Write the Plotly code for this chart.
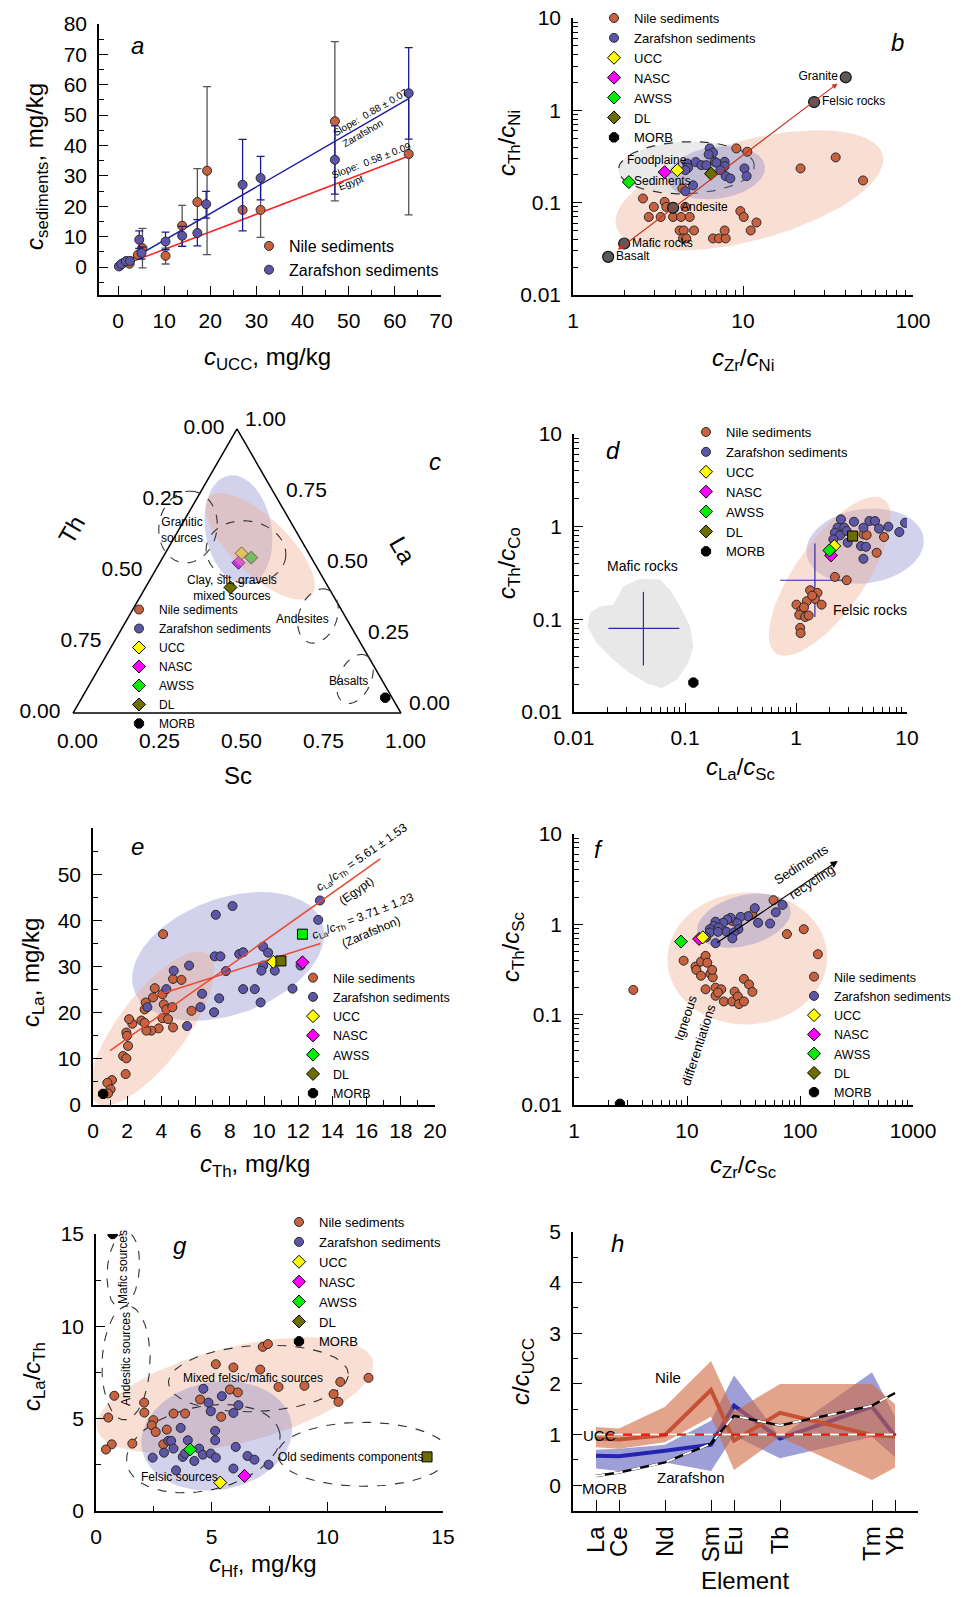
import math
import numpy as np
import plotly.graph_objects as go

W, H = 962, 1597

# =====================================================================
# DATA
# =====================================================================
# ---- (a) c_sediments vs c_UCC ----
a_nile_x = [0.4, 1.1, 1.8, 2.5, 4.3, 5.3, 10.3, 13.9, 17.2, 19.3, 27.0, 30.9, 47.0, 63.0]
a_nile_y = [0.5, 1.3, 1.9, 1.1, 4.0, 6.2, 3.7, 13.6, 21.4, 31.7, 18.8, 18.8, 48.0, 37.2]
a_nile_ep = [0, 0, 0, 0, 0, 6.5, 2.5, 6.7, 11.0, 27.7, 0, 10.5, 26.2, 20.0]
a_nile_em = [0, 0, 0, 0, 0, 6.5, 2.7, 6.8, 11.0, 27.6, 0, 9.0, 26.2, 20.0]
a_zaf_x = [0.2, 0.7, 1.7, 2.6, 4.6, 5.1, 10.3, 13.9, 17.2, 19.1, 27.0, 30.9, 47.0, 63.0]
a_zaf_y = [0.2, 1.0, 1.9, 2.0, 9.0, 4.6, 8.4, 10.3, 11.2, 20.7, 27.1, 29.3, 35.3, 57.2]
a_zaf_ep = [0, 0, 0, 1.2, 2.9, 2.0, 3.1, 3.1, 4.4, 4.2, 14.9, 7.1, 11.2, 15.0]
a_zaf_em = [0, 0, 0, 1.0, 2.9, 2.0, 2.7, 3.5, 4.2, 4.6, 15.2, 7.2, 11.3, 15.1]
a_slope_zaf = 0.88
a_slope_nile = 0.58
a_fit_x = [0, 63]

# ---- (b) Th/Ni vs Zr/Ni ----
b_nile_x = [9.14, 10.6, 21.8, 35.1, 50.8, 2.58, 3.46, 2.99, 3.54, 4.58, 2.79, 3.28, 3.88, 4.32, 4.86,
            4.24, 4.48, 5.15, 4.44, 4.64, 6.66, 7.22, 7.91, 7.80, 9.65, 10.1, 12.0, 11.1, 4.40]
b_nile_y = [0.387, 0.356, 0.235, 0.309, 0.174, 0.111, 0.102, 0.090, 0.090, 0.090, 0.070, 0.070, 0.070, 0.070, 0.070,
            0.050, 0.050, 0.050, 0.041, 0.041, 0.041, 0.041, 0.041, 0.050, 0.081, 0.070, 0.061, 0.050, 0.143]
b_zaf_x = [6.37, 6.66, 6.28, 6.81, 7.80, 6.97, 7.80, 4.69, 5.27, 5.69, 6.09, 4.75, 4.58, 7.36, 7.91, 8.42,
           10.2, 10.5, 5.08, 4.58]
b_zaf_y = [0.387, 0.348, 0.333, 0.277, 0.277, 0.271, 0.249, 0.266, 0.275, 0.255, 0.255, 0.239, 0.225, 0.225,
           0.194, 0.183, 0.235, 0.194, 0.154, 0.133]
b_ref_names = ["UCC", "NASC", "AWSS", "DL"]
b_ref_x = [4.11, 3.46, 2.13, 6.48]
b_ref_y = [0.225, 0.214, 0.167, 0.206]
b_rock_names = ["Basalt", "Mafic rocks", "Andesite", "Felsic rocks", "Granite"]
b_rock_x = [1.61, 2.0, 3.88, 26.2, 40.2]
b_rock_y = [0.0259, 0.0361, 0.088, 1.23, 2.28]

# ---- (c) ternary La-Th-Sc (fractions) ----
c_ref_names = ["UCC", "AWSS", "NASC", "DL", "MORB"]
c_ref_la = [0.562, 0.547, 0.529, 0.442, 0.054]
c_ref_th = [0.205, 0.183, 0.231, 0.299, 0.021]
c_ref_sc = [0.233, 0.270, 0.240, 0.259, 0.925]

# ---- (d) Th/Co vs La/Sc ----
d_nile_x = [2.24, 2.86, 1.34, 1.56, 1.48, 1.70, 1.01, 1.25, 1.12, 1.07, 1.21, 1.09, 1.10, 4.05, 4.33, 5.33, 6.21,
            1.40, 1.18, 1.30]
d_nile_y = [0.287, 0.264, 0.206, 0.193, 0.166, 0.144, 0.144, 0.157, 0.125, 0.112, 0.106, 0.081, 0.071, 0.826,
            0.812, 0.523, 0.773, 0.180, 0.135, 0.110]
d_zaf_x = [2.54, 2.37, 2.72, 2.24, 2.49, 2.86, 3.33, 4.05, 4.58, 5.15, 5.60, 6.79, 9.60, 8.53, 2.92, 3.85, 4.27,
           4.05, 2.17]
d_zaf_y = [1.20, 0.976, 0.976, 0.861, 0.805, 0.898, 1.13, 0.976, 1.15, 1.15, 0.952, 1.0, 1.10, 0.875, 0.671,
           0.618, 0.607, 0.45, 0.729]
d_ref_names = ["UCC", "NASC", "AWSS", "DL", "MORB"]
d_ref_x = [2.21, 2.07, 2.0, 3.24, 0.119]
d_ref_y = [0.618, 0.49, 0.554, 0.792, 0.0208]
# rock fields: mean with range (cross)
d_cross_x = [1.48, 0.0422]
d_cross_y = [0.264, 0.080]
d_cross_xhi = [3.1, 0.0889]
d_cross_xlo = [0.72, 0.0204]
d_cross_yhi = [0.66, 0.198]
d_cross_ylo = [0.106, 0.0318]
# mafic rocks field outline
d_mafic_x = [0.0139, 0.0171, 0.0226, 0.0278, 0.0394, 0.0596, 0.0733, 0.0902, 0.111, 0.119, 0.107, 0.0841,
             0.0617, 0.0452, 0.0320, 0.0226, 0.0160, 0.0132]
d_mafic_y = [0.117, 0.138, 0.144, 0.228, 0.274, 0.269, 0.209, 0.138, 0.0839, 0.0511, 0.0337, 0.0222, 0.0180,
             0.0204, 0.0262, 0.0366, 0.0555, 0.0839]

# ---- (e) La vs Th ----
e_nile_x = [4.10, 4.68, 5.17, 3.61, 4.06, 3.51, 3.08, 3.02, 4.14, 4.29, 4.64, 4.06, 4.39, 4.68, 3.84, 3.41, 3.12,
            2.83, 3.02, 2.30, 2.11, 1.95, 1.99, 2.05, 1.76, 1.95, 1.91, 5.76, 1.11, 0.84, 1.03, 0.88]
e_nile_y = [37.0, 27.3, 27.1, 25.3, 24.0, 23.3, 22.2, 20.7, 21.8, 20.7, 21.2, 18.8, 18.6, 16.8, 16.6, 16.1, 16.1,
            18.3, 17.8, 17.6, 18.6, 15.7, 15.0, 12.8, 10.6, 10.1, 6.7, 20.4, 5.4, 4.8, 3.4, 2.5]
e_zaf_x = [7.18, 8.16, 13.27, 13.17, 7.12, 7.45, 8.55, 8.78, 7.77, 9.95, 10.24, 9.95, 9.85, 10.63, 12.14, 11.67,
           9.46, 8.78, 9.80, 6.38, 7.38, 6.28, 7.08, 5.62, 4.72, 4.29, 3.18, 5.50]
e_zaf_y = [41.2, 43.1, 44.3, 40.1, 32.2, 32.2, 32.7, 33.1, 29.0, 34.3, 33.0, 30.2, 29.1, 29.1, 30.2, 25.2, 25.1,
           25.1, 22.2, 24.1, 23.1, 21.2, 20.1, 30.2, 29.1, 25.1, 21.2, 17.1]
e_ref_names = ["UCC", "NASC", "AWSS", "DL", "MORB"]
e_ref_x = [10.54, 12.25, 12.25, 10.99, 0.59]
e_ref_y = [31.0, 30.9, 37.0, 31.2, 2.4]
e_fit_egypt_x = [1.0, 16.8]
e_fit_egypt_y = [11.8, 53.3]
e_fit_zaf_x = [3.5, 13.3]
e_fit_zaf_y = [23.5, 35.0]

# ---- (f) Th/Sc vs Zr/Sc ----
f_nile_x = [3.35, 9.34, 11.9, 12.1, 13.3, 14.6, 15.1, 13.3, 16.1, 16.9, 16.7, 14.6, 17.9, 20.1, 17.9, 18.8, 21.2,
            25.2, 26.4, 28.2, 28.8, 31.9, 31.9, 35.4, 37.9, 58.3, 37.9, 76.6, 108, 144, 25.2]
f_nile_y = [0.188, 0.396, 0.341, 0.313, 0.386, 0.448, 0.376, 0.270, 0.284, 0.259, 0.313, 0.191, 0.199, 0.191,
            0.162, 0.176, 0.140, 0.140, 0.180, 0.159, 0.131, 0.140, 0.249, 0.216, 0.179, 1.85, 1.28, 0.780, 0.883,
            0.467, 1.09]
f_zaf_x = [70.1, 61.1, 39.8, 34.7, 29.8, 24.3, 22.7, 20.9, 17.9, 17.3, 19.1, 15.9, 15.9, 14.8, 27.9, 28.5, 22.4,
           26.0, 25.2, 42.6, 54.4, 17.9, 18.8]
f_zaf_y = [1.64, 1.36, 1.51, 1.23, 1.21, 1.18, 1.13, 1.04, 1.07, 0.96, 0.92, 0.883, 0.813, 0.718, 1.03, 0.883,
           0.826, 0.813, 0.700, 1.04, 1.02, 0.618, 0.826]
f_ref_names = ["AWSS", "NASC", "UCC", "MORB"]
f_ref_x = [8.85, 12.8, 13.8, 2.55]
f_ref_y = [0.644, 0.689, 0.718, 0.0103]

# ---- (g) La/Th vs Hf ----
g_nile_x = [0.53, 0.68, 0.79, 0.43, 2.08, 2.09, 2.48, 2.41, 2.58, 3.06, 2.91, 1.57, 3.35, 3.85, 4.50, 5.18, 5.94,
            5.79, 6.13, 5.41, 7.10, 7.21, 7.43, 7.89, 9.01, 10.27, 10.48, 10.56, 11.78]
g_nile_y = [5.06, 3.61, 6.24, 3.33, 5.87, 5.33, 4.92, 4.64, 4.28, 4.41, 3.61, 3.65, 5.28, 5.28, 6.04, 7.95, 7.77,
            6.58, 6.42, 5.10, 7.66, 8.89, 9.04, 6.72, 6.78, 6.33, 5.91, 6.99, 7.21]
g_zaf_x = [4.64, 5.44, 4.86, 4.96, 6.16, 5.94, 3.66, 5.15, 5.15, 3.97, 3.13, 3.25, 3.35, 2.94, 2.45, 3.75, 3.85,
           4.46, 4.62, 4.96, 5.18, 4.25, 3.46, 5.94, 6.04, 6.55, 6.85, 7.46]
g_zaf_y = [6.62, 6.22, 5.87, 5.40, 5.73, 5.31, 4.50, 4.34, 3.83, 3.83, 3.80, 3.80, 3.38, 3.16, 2.89, 2.93, 3.11,
           3.38, 3.05, 3.11, 2.89, 2.71, 2.20, 2.30, 3.47, 2.98, 2.78, 2.51]
g_ref_names = ["UCC", "NASC", "AWSS", "DL", "MORB"]
g_ref_x = [5.37, 6.42, 4.07, 14.31, 0.72]
g_ref_y = [1.54, 1.90, 3.33, 2.93, 15.0]

# ---- (h) REE normalised to UCC ----
h_elements = ["La", "Ce", "Nd", "Sm", "Eu", "Tb", "Tm", "Yb"]
h_z = [57, 58, 60, 62, 63, 65, 69, 70]
h_nile = [0.92, 0.90, 0.99, 1.88, 0.88, 1.43, 0.99, 0.96]
h_nile_hi = [1.15, 1.12, 1.55, 2.45, 1.45, 2.00, 2.00, 1.60]
h_nile_lo = [0.75, 0.72, 0.85, 1.35, 0.30, 0.95, 0.10, 0.35]
h_zaf = [0.58, 0.57, 0.68, 0.80, 1.57, 0.92, 1.55, 0.97]
h_zaf_hi = [0.70, 0.72, 0.80, 1.27, 2.17, 0.95, 2.23, 1.35]
h_zaf_lo = [0.33, 0.28, 0.45, 0.28, 0.98, 0.53, 0.95, 0.55]
h_morb = [0.18, 0.25, 0.45, 0.82, 1.37, 1.18, 1.57, 1.82]
h_ucc = [1, 1, 1, 1, 1, 1, 1, 1]

# =====================================================================
# STYLE / LAYOUT
# =====================================================================
FONT = "Arial, Liberation Sans, sans-serif"
NILE = "#C8613F"
ZAF = "#5D56A8"
OUT = "#2a2a2a"
REF_COL = {"UCC": "#FFFF00", "NASC": "#FF00FF", "AWSS": "#00EE00", "DL": "#6E6E00", "MORB": "#000000"}
ORANGE_FILL = "rgba(238,170,140,0.38)"
PURPLE_FILL = "rgba(125,125,200,0.35)"

# page offset of the plot div (default body margin of the html page)
OFF = 8

# panel geometry (page pixels): x-domain, y-domain (top, bottom), ranges (log10 for log axes)
AX = {
    "a": dict(xd=(99, 441), yd=(24, 295), xr=(-4.12, 70), yr=(-9.2, 80), xlog=False, ylog=False, n=""),
    "b": dict(xd=(573, 913), yd=(18, 295), xr=(0, 2), yr=(-2, 1), xlog=True, ylog=True, n="2"),
    "d": dict(xd=(574, 907), yd=(434, 712), xr=(-2, 1), yr=(-2, 1), xlog=True, ylog=True, n="3"),
    "e": dict(xd=(93, 435), yd=(828, 1105), xr=(0, 20), yr=(0, 60), xlog=False, ylog=False, n="4"),
    "f": dict(xd=(574, 913), yd=(834, 1105), xr=(0, 3), yr=(-2, 1), xlog=True, ylog=True, n="5"),
    "g": dict(xd=(96, 443), yd=(1234, 1511), xr=(0, 15), yr=(0, 15), xlog=False, ylog=False, n="6"),
    "h": dict(xd=(573, 918), yd=(1232, 1511), xr=(56, 71), yr=(-0.51, 5), xlog=False, ylog=False, n="7"),
}
# ternary triangle (page pixels)
TRI_X0, TRI_SIDE, TRI_YB = 73, 328, 713
SQ3 = math.sqrt(3) / 2


def px(x):
    return (x - OFF) / W


def py(y):
    return 1 - (y - OFF) / H


def axes_of(p):
    n = AX[p]["n"]
    return "x" + n, "y" + n


def to_px(p, x, y):
    s = AX[p]
    ux = math.log10(x) if s["xlog"] else x
    uy = math.log10(y) if s["ylog"] else y
    X = s["xd"][0] + (ux - s["xr"][0]) / (s["xr"][1] - s["xr"][0]) * (s["xd"][1] - s["xd"][0])
    Y = s["yd"][1] - (uy - s["yr"][0]) / (s["yr"][1] - s["yr"][0]) * (s["yd"][1] - s["yd"][0])
    return X, Y


def ellipse(p, cx, cy, a_px, b_px, ang, n=140):
    s = AX[p]
    ux = math.log10(cx) if s["xlog"] else cx
    uy = math.log10(cy) if s["ylog"] else cy
    sx = (s["xd"][1] - s["xd"][0]) / (s["xr"][1] - s["xr"][0])
    sy = (s["yd"][1] - s["yd"][0]) / (s["yr"][1] - s["yr"][0])
    t = np.linspace(0, 2 * np.pi, n)
    th = math.radians(ang)
    dx = a_px * np.cos(t) * math.cos(th) - b_px * np.sin(t) * math.sin(th)
    dy = a_px * np.cos(t) * math.sin(th) + b_px * np.sin(t) * math.cos(th)
    X = ux + dx / sx
    Y = uy + dy / sy
    if s["xlog"]:
        X = 10 ** X
    if s["ylog"]:
        Y = 10 ** Y
    return list(X), list(Y)


def tern_ellipse(ca, cb, cc, a_px, b_px, ang, n=140):
    X0 = cc + ca / 2
    Y0 = ca * SQ3
    t = np.linspace(0, 2 * np.pi, n)
    th = math.radians(ang)
    dx = (a_px * np.cos(t) * math.cos(th) - b_px * np.sin(t) * math.sin(th)) / TRI_SIDE
    dy = (a_px * np.cos(t) * math.sin(th) + b_px * np.sin(t) * math.cos(th)) / TRI_SIDE
    X = X0 + dx
    Y = Y0 + dy
    A = Y / SQ3
    C = X - A / 2
    B = 1 - A - C
    return list(A), list(B), list(C)


def paper_ellipse_path(cx, cy, a, b, ang, n=90):
    t = np.linspace(0, 2 * np.pi, n)
    th = math.radians(ang)
    xs = cx + a * np.cos(t) * math.cos(th) - b * np.sin(t) * math.sin(th)
    ys = cy - (a * np.cos(t) * math.sin(th) + b * np.sin(t) * math.cos(th))
    pts = ["%s%.5f,%.5f" % ("M" if i == 0 else "L", px(x), py(y)) for i, (x, y) in enumerate(zip(xs, ys))]
    return " ".join(pts) + " Z"


def mk(color, size=9, symbol="circle", lw=1, lc=OUT):
    return dict(color=color, size=size, symbol=symbol, line=dict(color=lc, width=lw))


fig = go.Figure()
annotations = []
shapes = []


def txt(x, y, s, size=12, angle=0, xanchor="center"):
    annotations.append(dict(x=px(x), y=py(y), xref="paper", yref="paper", text=s, showarrow=False,
                            font=dict(family=FONT, size=size, color="black"), textangle=angle,
                            xanchor=xanchor, yanchor="middle"))


def add_fill(p, xs, ys, color, line_color=None, dash=None):
    xa, ya = axes_of(p)
    fig.add_trace(go.Scatter(x=xs, y=ys, mode="lines", fill="toself", fillcolor=color,
                             line=dict(color=line_color or "rgba(0,0,0,0)", width=1.2 if line_color else 0,
                                       dash=dash),
                             hoverinfo="skip", showlegend=False, xaxis=xa, yaxis=ya))


def add_outline(p, xs, ys):
    xa, ya = axes_of(p)
    fig.add_trace(go.Scatter(x=xs, y=ys, mode="lines", line=dict(color="#333333", width=1.1, dash="dash"),
                             hoverinfo="skip", showlegend=False, xaxis=xa, yaxis=ya))


def add_groups(p, nx, ny, zx, zy, legend, size=9):
    xa, ya = axes_of(p)
    fig.add_trace(go.Scatter(x=nx, y=ny, mode="markers", name="Nile sediments", marker=mk(NILE, size),
                             xaxis=xa, yaxis=ya, legend=legend))
    fig.add_trace(go.Scatter(x=zx, y=zy, mode="markers", name="Zarafshon sediments", marker=mk(ZAF, size),
                             xaxis=xa, yaxis=ya, legend=legend))


def add_refs(p, names, xs, ys, squares=()):
    xa, ya = axes_of(p)
    cols = [REF_COL[n] for n in names]
    syms = ["octagon" if n == "MORB" else ("square" if n in squares else "diamond") for n in names]
    fig.add_trace(go.Scatter(x=xs, y=ys, mode="markers", showlegend=False, xaxis=xa, yaxis=ya,
                             marker=dict(color=cols, symbol=syms, size=10, line=dict(color="black", width=1))))


def add_ref_legend(legend, tern=False):
    for name in ["UCC", "NASC", "AWSS", "DL", "MORB"]:
        sym = "octagon" if name == "MORB" else "diamond"
        m = dict(symbol=sym, size=10, color=REF_COL[name], line=dict(color="black", width=1))
        if tern:
            fig.add_trace(go.Scatterternary(a=[None], b=[None], c=[None], mode="markers", marker=m, name=name,
                                            legend=legend, subplot="ternary"))
        else:
            fig.add_trace(go.Scatter(x=[None], y=[None], mode="markers", marker=m, name=name, legend=legend,
                                     xaxis="x2", yaxis="y2"))


# ------------------------------- (a) -------------------------------
fig.add_trace(go.Scatter(x=a_fit_x, y=[a_slope_zaf * v for v in a_fit_x], mode="lines",
                         line=dict(color="#1A1AA0", width=1.5), showlegend=False, xaxis="x", yaxis="y"))
fig.add_trace(go.Scatter(x=a_fit_x, y=[a_slope_nile * v for v in a_fit_x], mode="lines",
                         line=dict(color="#FF2020", width=1.5), showlegend=False, xaxis="x", yaxis="y"))
fig.add_trace(go.Scatter(x=a_nile_x, y=a_nile_y, mode="markers", name="Nile sediments", marker=mk(NILE, 9),
                         error_y=dict(type="data", symmetric=False, array=a_nile_ep, arrayminus=a_nile_em,
                                      color="#555555", thickness=1.3, width=4),
                         xaxis="x", yaxis="y", legend="legend"))
fig.add_trace(go.Scatter(x=a_zaf_x, y=a_zaf_y, mode="markers", name="Zarafshon sediments", marker=mk(ZAF, 9),
                         error_y=dict(type="data", symmetric=False, array=a_zaf_ep, arrayminus=a_zaf_em,
                                      color="#1A1A90", thickness=1.3, width=4),
                         xaxis="x", yaxis="y", legend="legend"))

# ------------------------------- (b) -------------------------------
add_fill("b", *ellipse("b", 10.9, 0.136, 138, 50, 15), ORANGE_FILL)
add_fill("b", *ellipse("b", 4.64, 0.239, 68, 26, 2), "rgba(225,225,225,0.7)", line_color="#333333", dash="dash")
add_fill("b", *ellipse("b", 6.97, 0.211, 49, 26, 8), PURPLE_FILL)
add_groups("b", b_nile_x, b_nile_y, b_zaf_x, b_zaf_y, "legend2")
add_refs("b", b_ref_names, b_ref_x, b_ref_y)
fig.add_trace(go.Scatter(x=b_rock_x, y=b_rock_y, mode="markers+text", text=b_rock_names,
                         textposition=["middle right", "middle right", "middle right", "middle right", "middle left"],
                         textfont=dict(family=FONT, size=12, color="black"),
                         marker=mk("#5a5a5a", 11, lw=1.2, lc="#111111"), showlegend=False, xaxis="x2", yaxis="y2"))
add_ref_legend("legend2")
annotations.append(dict(x=math.log10(36), y=math.log10(1.95), ax=math.log10(1.8), ay=math.log10(0.03),
                        xref="x2", yref="y2", axref="x2", ayref="y2", text="", showarrow=True,
                        arrowhead=2, arrowsize=1, arrowwidth=1.1, arrowcolor="#C8321E", arrowside="end+start"))
txt(657, 160, "Foodplaine", 12)
txt(662, 181, "Sediments", 12)

# ------------------------------- (c) ternary -------------------------------
for nm, col in [("Nile sediments", NILE), ("Zarafshon sediments", ZAF)]:
    fig.add_trace(go.Scatterternary(a=[None], b=[None], c=[None], mode="markers", name=nm, marker=mk(col, 9),
                                    legend="legend3", subplot="ternary"))
add_ref_legend("legend3", tern=True)
fig.add_trace(go.Scatterternary(a=c_ref_la, b=c_ref_th, c=c_ref_sc, mode="markers", showlegend=False,
                                subplot="ternary",
                                marker=dict(color=[REF_COL[n] for n in c_ref_names],
                                            symbol=["octagon" if n == "MORB" else "diamond" for n in c_ref_names],
                                            size=10, line=dict(color="black", width=1))))
A_, B_, C_ = tern_ellipse(0.645, 0.173, 0.182, 55, 33, -80)
fig.add_trace(go.Scatterternary(a=A_, b=B_, c=C_, mode="lines", fill="toself", fillcolor=PURPLE_FILL,
                                line=dict(width=0, color="rgba(0,0,0,0)"), showlegend=False, subplot="ternary",
                                hoverinfo="skip"))
A_, B_, C_ = tern_ellipse(0.587, 0.136, 0.277, 71, 28, -44)
fig.add_trace(go.Scatterternary(a=A_, b=B_, c=C_, mode="lines", fill="toself", fillcolor=ORANGE_FILL,
                                line=dict(width=0, color="rgba(0,0,0,0)"), showlegend=False, subplot="ternary",
                                hoverinfo="skip"))
for (cx, cy, ra, rb, ang) in [(188, 527, 36, 29, 80), (246, 552, 40, 31, -8), (318, 616, 28, 19, 70),
                              (355, 679, 26, 16, 65)]:
    shapes.append(dict(type="path", xref="paper", yref="paper", path=paper_ellipse_path(cx, cy, ra, rb, ang),
                       line=dict(color="#333333", width=1.1, dash="dash"), fillcolor="rgba(0,0,0,0)"))
txt(182, 530, "Granitic<br>sources", 12)
txt(232, 588, "Clay, silt, gravels<br>mixed sources", 12)
txt(302, 619, "Andesites", 12)
txt(348, 681, "Basalts", 12)
tern_vals = [0, 0.25, 0.5, 0.75, 1]
tern_axis = dict(title=dict(text=""), min=0, linecolor="black", linewidth=1.5, showgrid=False,
                 ticks="outside", ticklen=9, tickcolor="rgba(0,0,0,0)",
                 showline=True, tickmode="array", tickvals=tern_vals,
                 tickfont=dict(family=FONT, size=21, color="black"))

# ------------------------------- (d) -------------------------------
add_fill("d", d_mafic_x, d_mafic_y, "rgba(232,232,232,1)")
_dcx, _dcy = to_px("d", 4.19, 0.617)
shapes.append(dict(type="path", xref="paper", yref="paper", layer="below",
                   path=paper_ellipse_path(_dcx, _dcy, 59, 37, 8), line=dict(width=0),
                   fillcolor=PURPLE_FILL))
add_fill("d", *ellipse("d", 2.02, 0.292, 94, 35, 55), ORANGE_FILL)
fig.add_trace(go.Scatter(x=d_cross_x, y=d_cross_y, mode="markers", marker=dict(size=1, color="rgba(0,0,0,0)"),
                         error_x=dict(type="data", symmetric=False,
                                      array=[h - c for h, c in zip(d_cross_xhi, d_cross_x)],
                                      arrayminus=[c - l for l, c in zip(d_cross_xlo, d_cross_x)],
                                      color="#2B2BA8", thickness=1.2, width=0),
                         error_y=dict(type="data", symmetric=False,
                                      array=[h - c for h, c in zip(d_cross_yhi, d_cross_y)],
                                      arrayminus=[c - l for l, c in zip(d_cross_ylo, d_cross_y)],
                                      color="#2B2BA8", thickness=1.2, width=0),
                         showlegend=False, xaxis="x3", yaxis="y3"))
add_groups("d", d_nile_x, d_nile_y, d_zaf_x, d_zaf_y, "legend4")
add_refs("d", d_ref_names, d_ref_x, d_ref_y, squares=("DL",))
add_ref_legend("legend4")
txt(642, 566, "Mafic rocks", 14)
txt(870, 610, "Felsic rocks", 14)

# ------------------------------- (e) -------------------------------
add_fill("e", *ellipse("e", 7.9, 32.2, 100, 58, 20), PURPLE_FILL)
add_fill("e", *ellipse("e", 3.45, 16.6, 93, 34, 53), ORANGE_FILL)
add_groups("e", e_nile_x, e_nile_y, e_zaf_x, e_zaf_y, "legend5")
fig.add_trace(go.Scatter(x=e_fit_egypt_x, y=e_fit_egypt_y, mode="lines", line=dict(color="#EB4A30", width=1.5),
                         showlegend=False, xaxis="x4", yaxis="y4"))
fig.add_trace(go.Scatter(x=e_fit_zaf_x, y=e_fit_zaf_y, mode="lines", line=dict(color="#EB4A30", width=1.5),
                         showlegend=False, xaxis="x4", yaxis="y4"))
add_refs("e", e_ref_names, e_ref_x, e_ref_y, squares=("DL", "AWSS"))
add_ref_legend("legend5")
txt(362, 858, "<i>c</i><sub>La</sub>/<i>c</i><sub>Th</sub> = 5.61 ± 1.53", 12, -35)
txt(356, 891, "(Egypt)", 12, -35)
txt(363, 917, "<i>c</i><sub>La</sub>/<i>c</i><sub>Th</sub> = 3.71 ± 1.23", 12, -21)
txt(371, 932, "(Zarafshon)", 12, -23)

# ------------------------------- (f) -------------------------------
add_fill("f", *ellipse("f", 34.2, 0.419, 80, 66, 3), ORANGE_FILL)
add_fill("f", *ellipse("f", 31.9, 1.10, 48, 25, 15), PURPLE_FILL)
shapes.append(dict(type="line", xref="x5", yref="y5", x0=0, x1=math.log10(740), y0=0, y1=0,
                   line=dict(color="#FF7F27", width=1.8, dash="dash")))
shapes.append(dict(type="line", xref="x5", yref="y5", x0=1.015, y0=-1.367, x1=1.253, y1=-0.216,
                   line=dict(color="black", width=1.2)))
annotations.append(dict(x=math.log10(216), y=math.log10(5.03), ax=math.log10(17.9), ay=math.log10(0.608),
                        xref="x5", yref="y5", axref="x5", ayref="y5", text="", showarrow=True,
                        arrowhead=2, arrowsize=1.2, arrowwidth=1.2, arrowcolor="black"))
add_groups("f", f_nile_x, f_nile_y, f_zaf_x, f_zaf_y, "legend6")
add_refs("f", f_ref_names, f_ref_x, f_ref_y)
add_ref_legend("legend6")
txt(801, 864, "Sediments", 13, -33)
txt(811, 882, "recycling", 13, -33)
txt(685, 1018, "Igneous", 13, -72)
txt(698, 1045, "differentiations", 13, -72)

# ------------------------------- (g) -------------------------------
add_fill("g", *ellipse("g", 6.01, 6.27, 142, 48, 14), ORANGE_FILL)
add_fill("g", *ellipse("g", 5.22, 4.07, 76, 54, 10), PURPLE_FILL)
for (cx, cy, ra, rb, ang) in [(1.18, 13.05, 38, 16, 85), (1.30, 8.02, 57, 24, 88), (7.02, 7.18, 90, 33, 3),
                              (4.64, 3.38, 78, 42, 12), (11.57, 3.07, 86, 32, 0)]:
    add_outline("g", *ellipse("g", cx, cy, ra, rb, ang))
add_groups("g", g_nile_x, g_nile_y, g_zaf_x, g_zaf_y, "legend7")
add_refs("g", g_ref_names, g_ref_x, g_ref_y, squares=("DL",))
add_ref_legend("legend7")
txt(123, 1267, "Mafic sources", 12, -90)
txt(126, 1359, "Andesitic sources", 12, -90)
txt(253, 1378, "Mixed felsic/mafic sources", 12)
txt(179, 1477, "Felsic sources", 12)
txt(350, 1457, "Old sediments components", 12)

# ------------------------------- (h) -------------------------------
fig.add_trace(go.Scatter(x=h_z + h_z[::-1], y=h_zaf_hi + h_zaf_lo[::-1], mode="lines", fill="toself",
                         fillcolor="rgba(95,95,190,0.6)", line=dict(width=0, color="rgba(0,0,0,0)"),
                         showlegend=False, xaxis="x7", yaxis="y7", hoverinfo="skip"))
fig.add_trace(go.Scatter(x=h_z, y=h_zaf, mode="lines", line=dict(color="#2424B0", width=4),
                         showlegend=False, xaxis="x7", yaxis="y7"))
fig.add_trace(go.Scatter(x=h_z, y=h_nile, mode="lines", line=dict(color="#B8221A", width=4),
                         showlegend=False, xaxis="x7", yaxis="y7"))
fig.add_trace(go.Scatter(x=h_z + h_z[::-1], y=h_nile_hi + h_nile_lo[::-1], mode="lines", fill="toself",
                         fillcolor="rgba(208,110,70,0.62)", line=dict(width=0, color="rgba(0,0,0,0)"),
                         showlegend=False, xaxis="x7", yaxis="y7", hoverinfo="skip"))
fig.add_trace(go.Scatter(x=h_z, y=h_morb, mode="lines", line=dict(color="black", width=2.5),
                         showlegend=False, xaxis="x7", yaxis="y7"))
fig.add_trace(go.Scatter(x=h_z, y=h_morb, mode="lines", line=dict(color="white", width=2, dash="dash"),
                         showlegend=False, xaxis="x7", yaxis="y7"))
fig.add_trace(go.Scatter(x=h_z, y=h_ucc, mode="lines", line=dict(color="#FF1010", width=2.2),
                         showlegend=False, xaxis="x7", yaxis="y7"))
fig.add_trace(go.Scatter(x=h_z, y=h_ucc, mode="lines", line=dict(color="white", width=2, dash="dash"),
                         showlegend=False, xaxis="x7", yaxis="y7"))
txt(668, 1377, "Nile", 15)
txt(599, 1435, "UCC", 15)
txt(691, 1477, "Zarafshon", 15)
txt(604, 1488, "MORB", 15)

# ------------------------------- axis titles & panel letters -------------------------------
T = 24
txt(37, 167, "<i>c</i><sub>sediments</sub>, mg/kg", T, -90)
txt(267, 358, "<i>c</i><sub>UCC</sub>, mg/kg", T)
txt(508, 143, "<i>c</i><sub>Th</sub>/<i>c</i><sub>Ni</sub>", T, -90)
txt(743, 360, "<i>c</i><sub>Zr</sub>/<i>c</i><sub>Ni</sub>", T)
txt(72, 530, "Th", T, -60)
txt(402, 550, "La", T, 60)
txt(238, 775, "Sc", T)
txt(508, 563, "<i>c</i><sub>Th</sub>/<i>c</i><sub>Co</sub>", T, -90)
txt(740, 768, "<i>c</i><sub>La</sub>/<i>c</i><sub>Sc</sub>", T)
txt(32, 973, "<i>c</i><sub>La</sub>, mg/kg", T, -90)
txt(255, 1165, "<i>c</i><sub>Th</sub>, mg/kg", T)
txt(512, 947, "<i>c</i><sub>Th</sub>/<i>c</i><sub>Sc</sub>", T, -90)
txt(743, 1166, "<i>c</i><sub>Zr</sub>/<i>c</i><sub>Sc</sub>", T)
txt(33, 1377, "<i>c</i><sub>La</sub>/<i>c</i><sub>Th</sub>", T, -90)
txt(262, 1565, "<i>c</i><sub>Hf</sub>, mg/kg", T)
txt(522, 1372, "<i>c</i>/<i>c</i><sub>UCC</sub>", T, -90)
txt(745, 1580, "Element", T)
for (x, y, s) in [(137, 45, "a"), (897, 43, "b"), (435, 462, "c"), (613, 450, "d"), (137, 847, "e"),
                  (598, 850, "f"), (180, 1245, "g"), (617, 1243, "h")]:
    txt(x, y, "<i>%s</i>" % s, 24)
# slope labels in (a)
txt(370, 112, "Slope:  0.88 ± 0.07", 10, -30)
txt(362, 133, "Zarafshon", 10, -30)
txt(371, 160, "Slope:  0.58 ± 0.09", 10, -21)
txt(351, 182, "Egypt", 10, -21)

# ------------------------------- axes -------------------------------
TICKF = dict(family=FONT, size=21, color="black")


def base_axis(**kw):
    d = dict(showline=True, linecolor="black", linewidth=1.5, ticks="inside", ticklen=9, tickwidth=1.3,
             tickcolor="black", showgrid=False, zeroline=False, tickfont=TICKF, mirror=False, automargin=False,
             ticklabeloverflow="allow")
    d.update(kw)
    return d


def minor_lin(dt, t0=0):
    return dict(ticks="inside", ticklen=5, tickwidth=1.1, tickcolor="black", dtick=dt, tick0=t0, showgrid=False)


def log_minor(lo, hi):
    vals = []
    for e in range(lo, hi):
        for k in range(2, 10):
            vals.append(k * 10 ** e)
    return dict(ticks="inside", ticklen=5, tickwidth=1.1, tickcolor="black", tickmode="array", tickvals=vals,
                showgrid=False)


def log_major(lo, hi):
    vals = [10 ** e for e in range(lo, hi + 1)]
    txts = [("%g" % v) for v in vals]
    return dict(tickmode="array", tickvals=vals, ticktext=txts)


layout_axes = {}
for p, s in AX.items():
    n = s["n"]
    xk, yk = "xaxis" + n, "yaxis" + n
    xa, ya = axes_of(p)
    xkw = dict(domain=[px(s["xd"][0]), px(s["xd"][1])], range=list(s["xr"]), anchor=ya, ticklabelstandoff=6)
    ykw = dict(domain=[py(s["yd"][1]), py(s["yd"][0])], range=list(s["yr"]), anchor=xa, ticklabelstandoff=6)
    if s["xlog"]:
        xkw.update(type="log", minor=log_minor(int(s["xr"][0]), int(s["xr"][1])),
                   **log_major(int(s["xr"][0]), int(s["xr"][1])))
    if s["ylog"]:
        ykw.update(type="log", minor=log_minor(int(s["yr"][0]), int(s["yr"][1])),
                   **log_major(int(s["yr"][0]), int(s["yr"][1])))
    layout_axes[xk] = base_axis(**xkw)
    layout_axes[yk] = base_axis(**ykw)

layout_axes["xaxis"].update(tick0=0, dtick=10, minor=minor_lin(5))
layout_axes["yaxis"].update(tick0=0, dtick=10, minor=minor_lin(5))
layout_axes["xaxis4"].update(tick0=0, dtick=2, minor=minor_lin(1))
layout_axes["yaxis4"].update(tickmode="array", tickvals=[0, 10, 20, 30, 40, 50],
                             minor=dict(ticks="inside", ticklen=5, tickwidth=1.1, tickcolor="black",
                                        tickmode="array", tickvals=[5, 15, 25, 35, 45, 55], showgrid=False))
layout_axes["xaxis6"].update(tick0=0, dtick=5, minor=minor_lin(2.5))
layout_axes["yaxis6"].update(tick0=0, dtick=5, minor=minor_lin(2.5))
layout_axes["xaxis7"].update(tickmode="array", tickvals=h_z, ticktext=h_elements, tickangle=-90,
                             tickfont=dict(family=FONT, size=24, color="black"), ticklen=11, ticklabelstandoff=4)
layout_axes["yaxis7"].update(tick0=0, dtick=1, minor=minor_lin(0.5))


def leg(x, y, size):
    return dict(x=px(x), y=py(y), xanchor="left", yanchor="top", bgcolor="rgba(0,0,0,0)",
                font=dict(family=FONT, size=size, color="black"), tracegroupgap=0, borderwidth=0)


fig.update_layout(
    width=W, height=H, autosize=False, margin=dict(l=0, r=0, t=0, b=0, pad=0, autoexpand=False),
    paper_bgcolor="white", plot_bgcolor="white", font=dict(family=FONT, color="black"),
    showlegend=True,
    legend=leg(249, 229, 16), legend2=leg(594, 3, 13), legend3=leg(119, 595, 12), legend4=leg(686, 417, 13),
    legend5=leg(293, 963, 12.5), legend6=leg(794, 962, 12.5), legend7=leg(279, 1207, 13),
    ternary=dict(domain=dict(x=[px(TRI_X0), px(TRI_X0 + TRI_SIDE)], y=[py(TRI_YB), py(TRI_YB - TRI_SIDE * SQ3)]),
                 sum=1, bgcolor="rgba(0,0,0,0)",
                 aaxis=dict(tern_axis, ticktext=["0.00", "0.75", "0.50", "0.25", "0.00"]),
                 baxis=dict(tern_axis, ticktext=["1.00", "0.75", "0.50", "0.25", "0.00"]),
                 caxis=dict(tern_axis, ticktext=["1.00", "0.75", "0.50", "0.25", "0.00"])),
    annotations=annotations, shapes=shapes,
    **layout_axes,
)

fig.write_html("out.html")
